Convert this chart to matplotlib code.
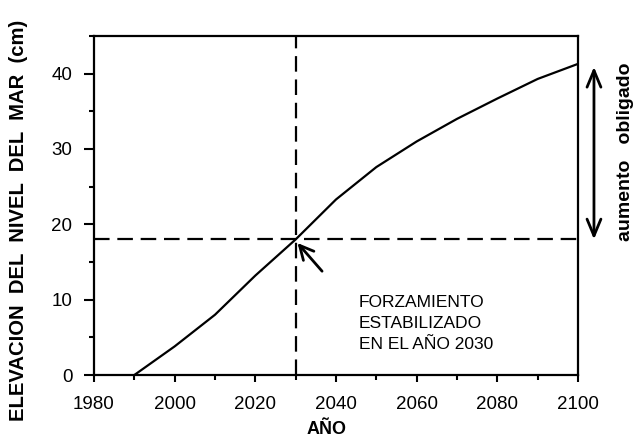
import matplotlib
matplotlib.use("Agg")
import matplotlib.pyplot as plt
from matplotlib.ticker import MultipleLocator

plt.rcParams['font.family'] = ['Liberation Sans', 'DejaVu Sans']

# Sea level rise after forcing is stabilised in 2030
years = [1990, 2000, 2010, 2020, 2030, 2040, 2050, 2060, 2070, 2080, 2090, 2100]
rise_cm = [0.0, 3.8, 8.0, 13.2, 18.0, 23.3, 27.6, 31.0, 34.0, 36.7, 39.3, 41.3]

stab_year = 2030
stab_level = 18.0

x_ticks = [1980, 2000, 2020, 2040, 2060, 2080, 2100]
y_ticks = [0, 10, 20, 30, 40]

fig = plt.figure(figsize=(6.37, 4.43), dpi=100)
ax = fig.add_axes([94 / 637, 1 - 375 / 443, 484 / 637, 339 / 443])

ax.plot(years, rise_cm, color="black", lw=1.6)

dash = (0, (7, 3.5))
ax.axvline(stab_year, color="black", lw=1.6, linestyle=dash)
ax.axhline(stab_level, color="black", lw=1.6, linestyle=dash)

ax.set_xlim(1980, 2100)
ax.set_ylim(0, 45)
ax.set_xticks(x_ticks)
ax.set_yticks(y_ticks)
ax.xaxis.set_minor_locator(MultipleLocator(10))
ax.yaxis.set_minor_locator(MultipleLocator(5))
ax.tick_params(which="major", direction="out", width=1.5, labelsize=13.5)
ax.tick_params(axis="x", which="major", length=5, pad=10)
ax.tick_params(axis="y", which="major", length=7.5, pad=8)
ax.tick_params(which="minor", direction="out", length=3.5, width=1.5)
for sp in ax.spines.values():
    sp.set_linewidth(1.6)

ax.set_xlabel("AÑO", fontsize=13, fontweight="bold")
ax.xaxis.set_label_coords(0.48, -0.135)
ax.set_ylabel("ELEVACION  DEL  NIVEL  DEL  MAR  (cm)", fontsize=14.6,
              fontweight="bold")
ax.yaxis.set_label_coords(-0.137, 0.457)

# arrow pointing at the stabilisation point
ax.annotate("", xy=(stab_year, stab_level - 0.2), xytext=(2037, 13.5),
            arrowprops=dict(arrowstyle="->,head_length=1.0,head_width=0.5",
                            color="black", lw=2.0))
ax.text(2045.7, 6.9, "FORZAMIENTO\nESTABILIZADO\nEN EL AÑO 2030",
        fontsize=12.5, va="center", ha="left", linespacing=1.5)

# committed rise beyond the stabilised level
ax.annotate("", xy=(1.033, rise_cm[-1] - 0.4), xytext=(1.033, stab_level),
            xycoords=("axes fraction", "data"),
            textcoords=("axes fraction", "data"),
            arrowprops=dict(arrowstyle="<->,head_length=1.2,head_width=0.5",
                            color="black", lw=2.0, shrinkA=0, shrinkB=0),
            annotation_clip=False)
ax.text(1.098, (rise_cm[-1] + stab_level) / 2, "aumento   obligado",
        transform=ax.get_yaxis_transform(), rotation=90, fontsize=14,
        fontweight="bold", ha="center", va="center")

fig.savefig("out.png", dpi=100)
